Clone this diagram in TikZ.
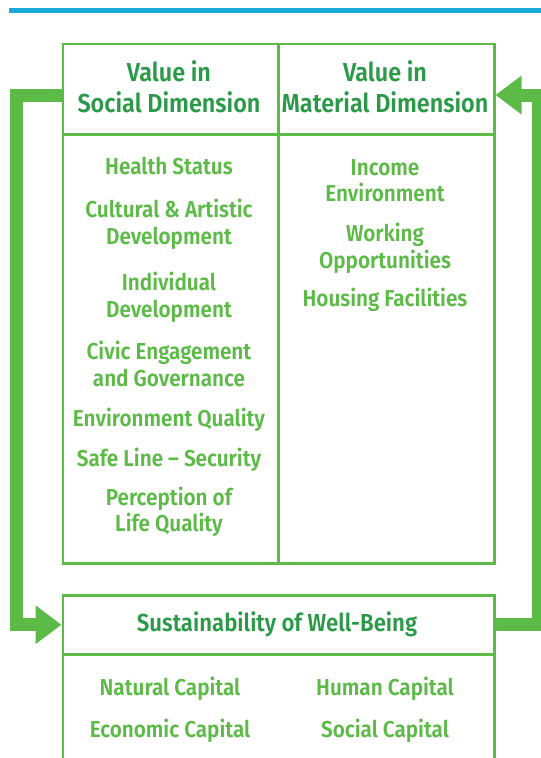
\documentclass[tikz,border=0pt]{standalone}
\usepackage{fontspec}
\usetikzlibrary{arrows.meta}
\newfontfamily\labelfont{Fira Sans SemiBold}[FakeStretch=0.9, Ligatures=TeX]
\definecolor{boxgreen}{HTML}{5CBA47}
\definecolor{headgreen}{HTML}{2B9A48}
\definecolor{rulebluetop}{HTML}{1BA8D8}
\tikzset{
  cell/.style={draw=boxgreen, line width=2.5pt, inner sep=0pt, anchor=north west},
  head/.style={text=headgreen, font=\labelfont\fontsize{26}{31}\selectfont, align=center, inner sep=0pt, anchor=base},
  item/.style={text=boxgreen, font=\labelfont\fontsize{23}{27}\selectfont, align=center, inner sep=0pt, anchor=base},
  flow/.style={draw=boxgreen, line width=13pt, line join=miter,
    -{Triangle[length=26pt, width=37pt]}},
}
\begin{document}
\begin{tikzpicture}[x=1pt, y=-1pt]
  \useasboundingbox (0,0) rectangle (541,758);
  \begin{scope}
    \clip (0,0) rectangle (541,758);
    % rule across the top
    \draw[rulebluetop, line width=5pt] (9,10.5) -- (541,10.5);

    % upper table: two dimensions of value
    \node[cell, minimum width=215.5pt, minimum height=90.5pt] (hL) at (61.5,42.5) {};
    \node[cell, minimum width=216pt, minimum height=90.5pt] (hR) at (277,42.5) {};
    \node[cell, minimum width=215.5pt, minimum height=429pt] (bL) at (61.5,133) {};
    \node[cell, minimum width=216pt, minimum height=429pt] (bR) at (277,133) {};

    % lower table: sustainability
    \node[cell, minimum width=431.5pt, minimum height=59pt] (sH) at (61.5,594) {};
    \node[cell, minimum width=431.5pt, minimum height=130pt] (sB) at (61.5,653) {};

    % headings
    \node[head] (tL1) at (169,81.5) {Value in};
    \node[head] (tL2) at (169,112.5) {Social Dimension};
    \node[head] (tR1) at (385,81.5) {Value in};
    \node[head] (tR2) at (385,112.5) {Material Dimension};
    \node[head, font=\labelfont\fontsize{24.6}{30}\selectfont] (tS) at (277,631) {Sustainability of Well-Being};

    % social dimension
    \node[item] (s1) at (169,174) {Health Status};
    \node[item] (s2a) at (169,217) {Cultural \& Artistic};
    \node[item] (s2b) at (169,244.5) {Development};
    \node[item] (s3a) at (169,290) {Individual};
    \node[item] (s3b) at (169,317.5) {Development};
    \node[item] (s4a) at (169,359) {Civic Engagement};
    \node[item] (s4b) at (169,386) {and Governance};
    \node[item] (s5) at (169,426) {Environment Quality};
    \node[item] (s6) at (169,466) {Safe Line \textendash{} Security};
    \node[item] (s7a) at (169,505) {Perception of};
    \node[item] (s7b) at (169,531) {Life Quality};

    % material dimension
    \node[item] (m1a) at (385,175) {Income};
    \node[item] (m1b) at (385,201.5) {Environment};
    \node[item] (m2a) at (385,241.5) {Working};
    \node[item] (m2b) at (385,268) {Opportunities};
    \node[item] (m3) at (385,306.5) {Housing Facilities};

    % capitals
    \node[item] (c1) at (170,695) {Natural Capital};
    \node[item] (c2) at (385,695) {Human Capital};
    \node[item] (c3) at (170,737.5) {Economic Capital};
    \node[item] (c4) at (385,737.5) {Social Capital};

    % feedback loop
    \draw[flow] ([yshift=-6pt]hL.west) -- ++(-45.5,0) |- (sH.west);
    \draw[flow] (sH.east) -- ++(42.5,0) |- ([yshift=-6pt]hR.east);
  \end{scope}
\end{tikzpicture}
\end{document}
